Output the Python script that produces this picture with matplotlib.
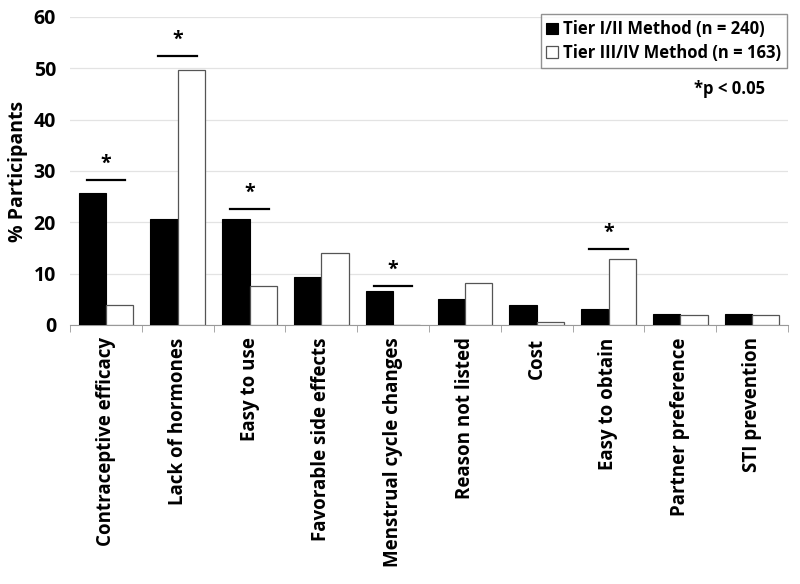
#!/usr/bin/env python3

import numpy as np
import matplotlib
matplotlib.use("Agg")
import matplotlib.pyplot as plt

#-------------------------------------------------------------
# data
reasons = ["Contraceptive efficacy", "Lack of hormones", "Easy to use",
           "Favorable side effects", "Menstrual cycle changes",
           "Reason not listed", "Cost", "Easy to obtain",
           "Partner preference", "STI prevention"]
tier12 = [25.8, 20.7, 20.7, 9.4, 6.7, 5.0, 3.8, 3.2, 2.1, 2.1]
tier34 = [3.9, 49.7, 7.5, 14.1, 0.0, 8.1, 0.6, 12.9, 1.9, 1.9]
# significant comparisons: (category index, height of the line)
sig_idx = [0, 1, 2, 4, 7]
sig_y = [28.3, 52.4, 22.6, 7.6, 14.8]

label12 = "Tier I/II Method (n = 240)"
label34 = "Tier III/IV Method (n = 163)"

#-------------------------------------------------------------
plt.rcParams['font.family'] = ['Open Sans', 'DejaVu Sans']
plt.rcParams['font.weight'] = 'bold'

fig = plt.figure(figsize=(8, 5.84), dpi=100)
ax = fig.add_axes([0.0875, 0.4435, 0.8975, 0.5275])

x = np.arange(len(reasons))
w = 0.38
ax.bar(x - w/2, tier12, w, color="black", edgecolor="black", linewidth=0.8,
       label=label12, zorder=3)
ax.bar(x + w/2, tier34, w, color="white", edgecolor="#555555", linewidth=0.9,
       label=label34, zorder=3)

# significance bars and stars
for i, y in zip(sig_idx, sig_y):
    ax.plot([i - 0.27, i + 0.27], [y, y], color="black", lw=1.6, zorder=4)
    ax.text(i, y + 1.2, "*", ha="center", va="bottom", fontsize=14,
            fontweight="bold", zorder=4)

ax.set_xlim(-0.5, len(reasons) - 0.5)
ax.set_ylim(0, 60)
ax.set_yticks(range(0, 61, 10))
ax.yaxis.grid(True, color="#e3e3e3", lw=0.9, zorder=0)
ax.set_axisbelow(True)

# category labels between boundary ticks
ax.set_xticks(x)
ax.set_xticklabels(reasons, rotation=90, fontsize=13.5, fontweight="bold")
ax.tick_params(axis="x", length=0, pad=9)
ax.set_xticks(np.arange(-0.5, len(reasons)), minor=True)
ax.tick_params(axis="x", which="minor", length=5, color="#999999")
ax.tick_params(axis="y", length=0, labelsize=14, pad=10)
for lab in ax.get_yticklabels():
    lab.set_fontweight("bold")

for s in ["top", "right", "left"]:
    ax.spines[s].set_visible(False)
ax.spines["bottom"].set_color("#999999")

ax.set_ylabel("% Participants", fontsize=14, fontweight="bold", labelpad=4)

leg = ax.legend(loc="upper right", bbox_to_anchor=(1.01, 1.035), fontsize=12,
                frameon=True, fancybox=False, edgecolor="#777777",
                handlelength=0.7, handleheight=0.7, handletextpad=0.3,
                borderpad=0.35, labelspacing=0.35)
leg.get_frame().set_linewidth(1.0)

ax.text(0.968, 0.765, "*p < 0.05", transform=ax.transAxes, ha="right",
        va="center", fontsize=12, fontweight="bold")

fig.savefig("out.png", dpi=100)
